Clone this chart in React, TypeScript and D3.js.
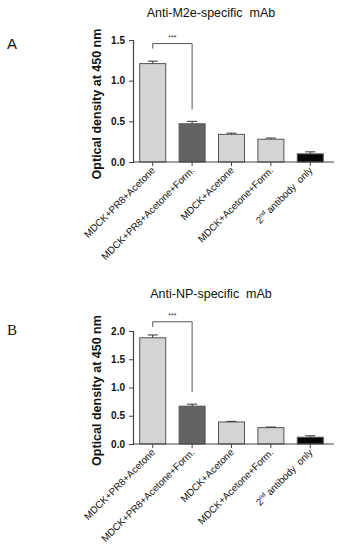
import React, { useRef, useEffect } from "react";
import * as d3 from "d3";

const groups = [
  "MDCK+PR8+Acetone",
  "MDCK+PR8+Acetone+Form.",
  "MDCK+Acetone",
  "MDCK+Acetone+Form.",
  "2nd antibody only",
];
const m2eMeans = [1.21, 0.47, 0.34, 0.28, 0.1];
const m2eErrors = [0.03, 0.03, 0.015, 0.015, 0.025];
const npMeans = [1.88, 0.67, 0.39, 0.29, 0.12];
const npErrors = [0.05, 0.035, 0.01, 0.01, 0.025];
const m2eTicks = [0, 0.5, 1.0, 1.5];
const npTicks = [0, 0.5, 1.0, 1.5, 2.0];
const barFills = ["#d4d4d4", "#636363", "#d4d4d4", "#d4d4d4", "#050505"];

const W = 345;
const H = 550;
const SANS = "Liberation Sans, Arial, sans-serif";

function drawPanel(svg, opts) {
  const { titleY, title, letter, letterY, letterFont, means, errors, ticks, yMax, yTop, yBottom, bracketGap } = opts;
  const g = svg.append("g");
  const x0 = 133;
  const x1 = 334;

  const x = d3.scaleBand().domain(groups).range([x0 + 2, x1 - 6]).paddingInner(0.34).paddingOuter(0.12);
  const y = d3.scaleLinear().domain([0, yMax]).range([yBottom, yTop]);

  // title + panel letter
  g.append("text")
    .attr("x", 211)
    .attr("y", titleY)
    .attr("text-anchor", "middle")
    .attr("font-family", SANS)
    .attr("font-size", 12.5)
    .attr("fill", "#111")
    .attr("xml:space", "preserve")
    .style("white-space", "pre")
    .text(title);
  g.append("text")
    .attr("x", 7)
    .attr("y", letterY)
    .attr("font-family", letterFont)
    .attr("font-size", 15)
    .attr("fill", "#111")
    .text(letter);

  // bars
  g.selectAll("rect.bar")
    .data(means)
    .join("rect")
    .attr("x", (d, i) => x(groups[i]))
    .attr("y", (d) => y(d))
    .attr("width", x.bandwidth())
    .attr("height", (d) => y(0) - y(d))
    .attr("fill", (d, i) => barFills[i])
    .attr("stroke", "#555")
    .attr("stroke-width", 1);

  // error bars (upper only)
  means.forEach((m, i) => {
    const cx = x(groups[i]) + x.bandwidth() / 2;
    g.append("line")
      .attr("x1", cx).attr("x2", cx)
      .attr("y1", y(m)).attr("y2", y(m + errors[i]))
      .attr("stroke", "#333").attr("stroke-width", 1);
    g.append("line")
      .attr("x1", cx - 5).attr("x2", cx + 5)
      .attr("y1", y(m + errors[i])).attr("y2", y(m + errors[i]))
      .attr("stroke", "#333").attr("stroke-width", 1);
  });

  // y axis
  const yAxis = g.append("g")
    .attr("transform", `translate(${x0},0)`)
    .call(d3.axisLeft(y).tickValues(ticks).tickFormat(d3.format(".1f")).tickSize(4).tickPadding(4));
  yAxis.select(".domain").attr("stroke", "#444").attr("stroke-width", 1.2);
  yAxis.selectAll(".tick line").attr("stroke", "#444");
  yAxis.selectAll("text")
    .attr("font-family", SANS)
    .attr("font-size", 10)
    .attr("font-weight", "bold")
    .attr("fill", "#111");

  // x axis
  g.append("line")
    .attr("x1", x0).attr("x2", x1)
    .attr("y1", yBottom).attr("y2", yBottom)
    .attr("stroke", "#444").attr("stroke-width", 1.2);
  groups.forEach((name, i) => {
    const cx = x(name) + x.bandwidth() / 2;
    g.append("line")
      .attr("x1", cx).attr("x2", cx)
      .attr("y1", yBottom).attr("y2", yBottom + 4)
      .attr("stroke", "#444");
    const t = g.append("text")
      .attr("transform", `translate(${cx + 3},${yBottom + 9}) rotate(-45)`)
      .attr("text-anchor", "end")
      .attr("font-family", SANS)
      .attr("font-size", 9.8)
      .attr("fill", "#111");
    if (name.startsWith("2nd")) {
      t.append("tspan").text("2");
      t.append("tspan").attr("font-size", 6).attr("dy", -4).text("nd");
      t.append("tspan").attr("dy", 4).attr("xml:space", "preserve").style("white-space", "pre").text(" antibody  only");
    } else {
      t.text(name);
    }
  });

  // y label
  g.append("text")
    .attr("transform", `translate(101,${(yTop + yBottom) / 2 + 3}) rotate(-90)`)
    .attr("text-anchor", "middle")
    .attr("font-family", SANS)
    .attr("font-size", 12.5)
    .attr("font-weight", "bold")
    .attr("fill", "#111")
    .text("Optical density at 450 nm");

  // significance bracket
  const c1 = x(groups[0]) + x.bandwidth() / 2;
  const c2 = x(groups[1]) + x.bandwidth() / 2;
  const by = y(means[0]) - bracketGap;
  g.append("path")
    .attr("d", `M${c1},${by + 5}V${by}H${c2}V${y(means[1] + errors[1]) - 12}`)
    .attr("fill", "none")
    .attr("stroke", "#555")
    .attr("stroke-width", 1);
  g.append("text")
    .attr("x", (c1 + c2) / 2)
    .attr("y", by - 4)
    .attr("text-anchor", "middle")
    .attr("font-family", SANS)
    .attr("font-size", 7)
    .attr("fill", "#333")
    .text("***");
}

export default function App() {
  const svgRef = useRef(null);

  useEffect(() => {
    const svg = d3.select(svgRef.current);
    svg.selectAll("*").remove();
    drawPanel(svg, {
      titleY: 17, title: "Anti-M2e-specific  mAb", letter: "A", letterY: 49, letterFont: SANS,
      means: m2eMeans, errors: m2eErrors, ticks: m2eTicks, yMax: 1.5,
      yTop: 40, yBottom: 162, bracketGap: 20,
    });
    drawPanel(svg, {
      titleY: 298, title: "Anti-NP-specific  mAb", letter: "B", letterY: 335, letterFont: "Liberation Serif, serif",
      means: npMeans, errors: npErrors, ticks: npTicks, yMax: 2.0,
      yTop: 331, yBottom: 444, bracketGap: 16,
    });
  }, []);

  return (
    <svg
      ref={svgRef}
      width={W}
      height={H}
      style={{ position: "absolute", left: 0, top: 0, background: "#fff" }}
    />
  );
}
